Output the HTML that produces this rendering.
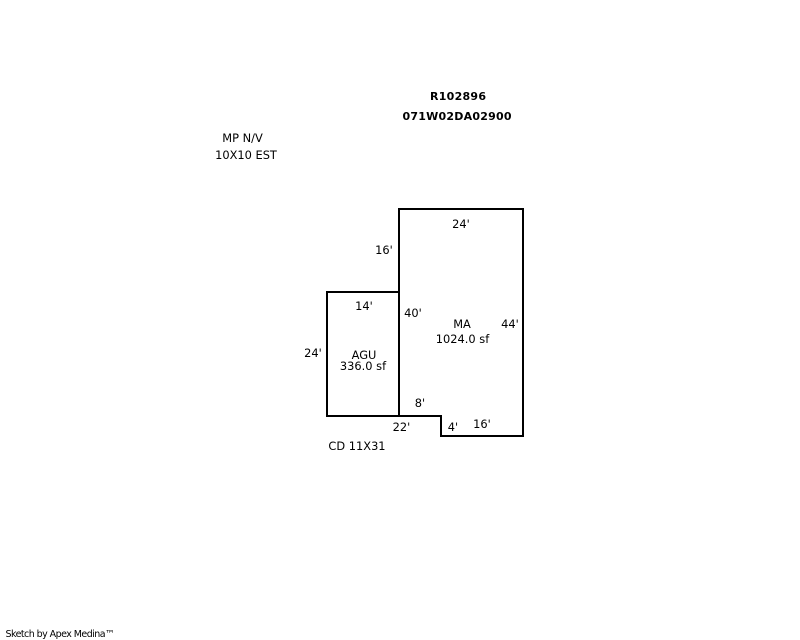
<!DOCTYPE html>
<html>
<head>
<meta charset="utf-8">
<style>
html,body{margin:0;padding:0;background:#fff;width:800px;height:640px;overflow:hidden}
svg{display:block}
text{font-family:"DejaVu Sans","Liberation Sans",sans-serif;font-size:11.4px;fill:#000;text-anchor:middle}
.b{font-weight:bold;font-size:11px}
</style>
</head>
<body>
<svg width="800" height="640" viewBox="0 0 800 640" xmlns="http://www.w3.org/2000/svg">
<rect width="800" height="640" fill="#fff"/>
<path d="M399 209H523V436H441V416H327V292H399M399 209V416" fill="none" stroke="#000" stroke-width="2" stroke-linecap="square"/>
<text class="b" x="458" y="100" textLength="56">R102896</text>
<text class="b" x="457" y="120" textLength="109">071W02DA02900</text>
<text x="242.5" y="142">MP N/V</text>
<text x="246" y="159">10X10 EST</text>
<text x="461" y="228">24'</text>
<text x="384" y="254">16'</text>
<text x="364" y="310">14'</text>
<text x="413" y="317">40'</text>
<text x="462" y="328">MA</text>
<text x="510" y="328">44'</text>
<text x="462.5" y="343">1024.0 sf</text>
<text x="313" y="357">24'</text>
<text x="364" y="359">AGU</text>
<text x="363" y="370">336.0 sf</text>
<text x="420" y="407">8'</text>
<text x="401.5" y="431">22'</text>
<text x="453" y="431">4'</text>
<text x="482" y="428">16'</text>
<text x="357" y="450">CD 11X31</text>
<text x="60" y="637" style="font-size:9.5px" textLength="109">Sketch by Apex Medina™</text>
</svg>
</body>
</html>
